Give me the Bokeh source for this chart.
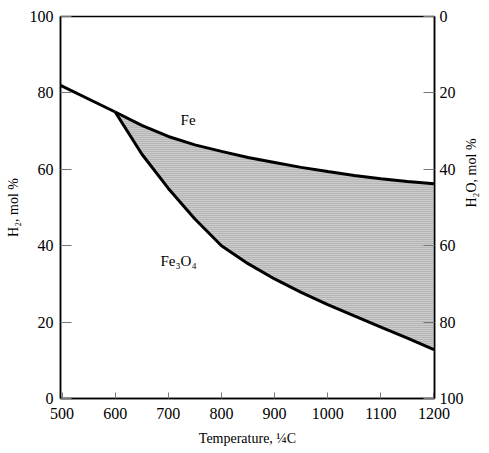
import math
from bokeh.plotting import figure
from bokeh.models import LinearAxis, Range1d, FixedTicker
from bokeh.core.properties import value
from bokeh.embed import file_html
from bokeh.resources import INLINE

# Data
temp_fe_line = [497, 600]
h2_fe_line = [82, 75]

temp = [600, 650, 700, 750, 800, 850, 900, 950, 1000, 1050, 1100, 1150, 1200]
h2_fe = [75, 71.5, 68.6, 66.4, 64.7, 63.1, 61.8, 60.5, 59.4, 58.4, 57.5, 56.8, 56.2]
h2_fe3o4 = [75, 64.0, 55.0, 47.0, 40.0, 35.3, 31.3, 27.8, 24.6, 21.6, 18.7, 15.8, 12.8]

x_ticks = [500, 600, 700, 800, 900, 1000, 1100, 1200]
y_ticks = [0, 20, 40, 60, 80, 100]

FONT = "Liberation Serif"

p = figure(width=489, height=453, output_backend="svg", toolbar_location=None,
           x_range=Range1d(497, 1201), y_range=Range1d(0, 100),
           min_border_left=60, min_border_right=54, min_border_top=16, min_border_bottom=55)
p.extra_y_ranges = {"h2o": Range1d(100, 0)}

p.grid.visible = False
p.outline_line_color = "black"
p.outline_line_width = 1.5
p.background_fill_color = "white"
p.border_fill_color = "white"

# shaded region
p.varea(x=temp, y1=h2_fe3o4, y2=h2_fe, fill_color="#cbcbcb",
        hatch_pattern="horizontal_line", hatch_color="#a0a0a0", hatch_scale=2, hatch_weight=1)

p.line(temp_fe_line, h2_fe_line, line_color="black", line_width=3)
p.line(temp, h2_fe, line_color="black", line_width=3)
p.line(temp, h2_fe3o4, line_color="black", line_width=3)

p.text(x=[723], y=[73], text=["Fe"], text_font=value(FONT), text_font_size="15px",
       text_align="left", text_baseline="middle", text_color="black")
p.text(x=[685], y=[36], text=["Fe\u2083O\u2084"], text_font=value(FONT), text_font_size="15px",
       text_align="left", text_baseline="middle", text_color="black")

def style(ax, tick_in):
    ax.major_label_text_font = FONT
    ax.major_label_text_font_size = "16px"
    ax.major_label_text_color = "black"
    ax.axis_label_text_font = FONT
    ax.axis_label_text_font_size = "14px"
    ax.axis_label_text_font_style = "normal"
    ax.axis_label_text_color = "black"
    ax.axis_line_color = "black"
    ax.axis_line_width = 1.5
    ax.major_tick_in = tick_in
    ax.major_tick_out = 0
    ax.major_tick_line_color = "#777777"
    ax.minor_tick_line_color = None

xa = p.xaxis[0]
xa.ticker = FixedTicker(ticks=x_ticks)
xa.axis_label = "Temperature, \u00bcC"
style(xa, 6)
xa.major_label_standoff = 9
xa.axis_label_standoff = 9

ya = p.yaxis[0]
ya.ticker = FixedTicker(ticks=y_ticks)
ya.axis_label = "H\u2082, mol %"
style(ya, 11)
ya.major_label_standoff = 7
ya.axis_label_standoff = 6

yr = LinearAxis(y_range_name="h2o", ticker=FixedTicker(ticks=y_ticks), axis_label="H\u2082O, mol %")
style(yr, 11)
yr.major_label_standoff = 5
yr.axis_label_standoff = 5
yr.axis_label_orientation = math.pi / 2
p.add_layout(yr, "right")

open("out.html", "w").write(file_html(p, INLINE))
